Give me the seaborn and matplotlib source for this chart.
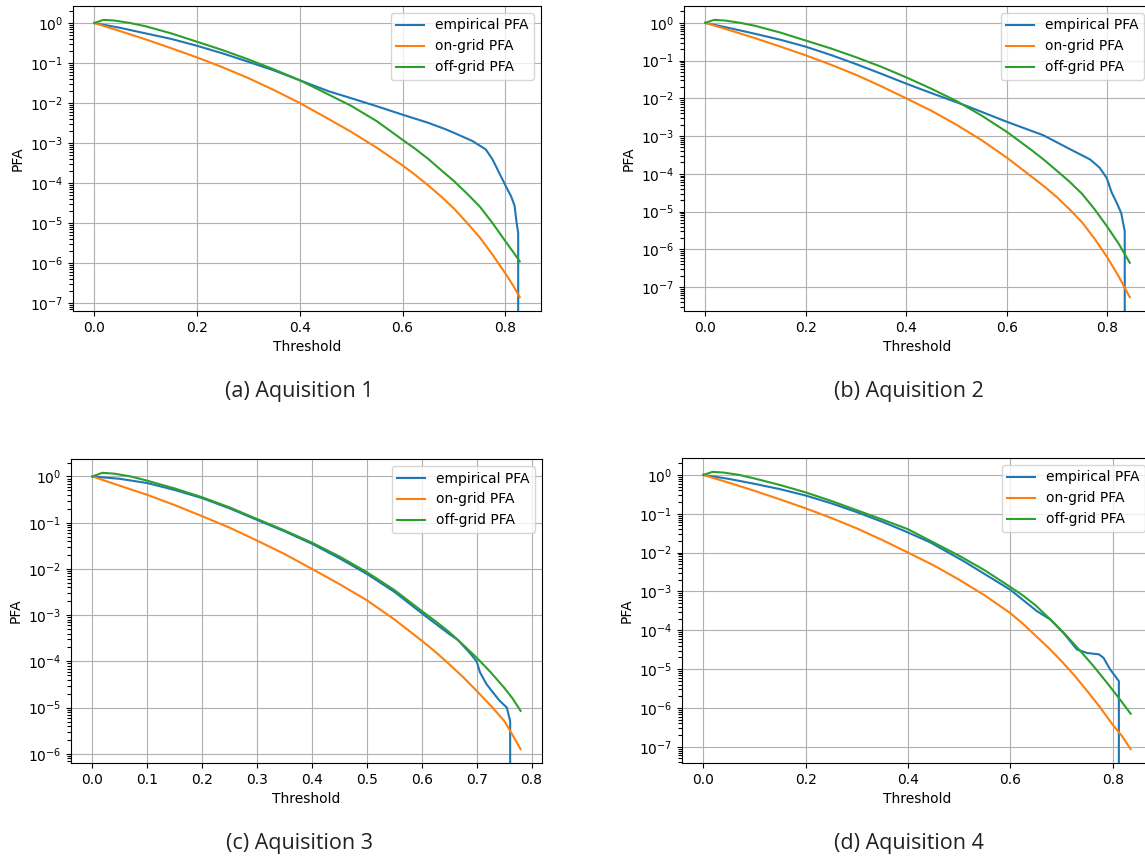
import matplotlib
matplotlib.use("Agg")
import matplotlib.pyplot as plt
from matplotlib.ticker import LogLocator, NullFormatter
import numpy as np
import seaborn as sns

# ---- data (threshold vs. probability of false alarm) ----
# (a) Aquisition 1
T_EMP_A = [0, 0.05, 0.1, 0.15, 0.2, 0.25, 0.3, 0.35, 0.4, 0.457, 0.5, 0.55, 0.6, 0.65,
           0.684, 0.7, 0.736, 0.762, 0.775, 0.788, 0.801, 0.811, 0.818, 0.822, 0.825, 0.8255]
EMP_A = [1.0, 0.76, 0.55, 0.40, 0.27, 0.174, 0.107, 0.065, 0.037, 0.0195, 0.0132, 8.3e-3,
         5.1e-3, 3.2e-3, 2.2e-3, 1.8e-3, 1.12e-3, 6.9e-4, 3.9e-4, 1.8e-4, 8.3e-5, 4.7e-5,
         2.7e-5, 1.0e-5, 5.6e-6, 0]
T_ON_A = [0, 0.05, 0.1, 0.15, 0.2, 0.25, 0.3, 0.35, 0.4, 0.45, 0.5, 0.55, 0.6, 0.625, 0.65,
          0.675, 0.7, 0.725, 0.75, 0.775, 0.8, 0.815, 0.828]
ON_A = [1.0, 0.63, 0.39, 0.234, 0.138, 0.078, 0.042, 0.021, 0.01, 4.4e-3, 1.9e-3, 7.6e-4,
        2.75e-4, 1.58e-4, 8.7e-5, 4.6e-5, 2.3e-5, 1.02e-5, 4.4e-6, 1.62e-6, 5.5e-7, 2.75e-7,
        1.4e-7]
T_OFF_A = [0, 0.018, 0.04, 0.07, 0.1, 0.15, 0.2, 0.25, 0.3, 0.35, 0.4, 0.45, 0.5, 0.55, 0.6,
           0.625, 0.65, 0.675, 0.7, 0.725, 0.75, 0.775, 0.8, 0.815, 0.828]
OFF_A = [1.0, 1.2, 1.15, 1.0, 0.83, 0.55, 0.34, 0.21, 0.123, 0.069, 0.037, 0.0178, 8.5e-3,
         3.5e-3, 1.2e-3, 7.1e-4, 4.0e-4, 2.1e-4, 1.12e-4, 5.5e-5, 2.6e-5, 1.0e-5, 3.5e-6,
         1.9e-6, 1.1e-6]

# (b) Aquisition 2
T_EMP_B = [0, 0.05, 0.1, 0.15, 0.2, 0.25, 0.3, 0.35, 0.4, 0.448, 0.52, 0.6, 0.673, 0.726,
           0.766, 0.785, 0.799, 0.809, 0.819, 0.828, 0.835, 0.8355]
EMP_B = [1.0, 0.72, 0.51, 0.355, 0.234, 0.141, 0.081, 0.045, 0.0245, 0.0141, 6.3e-3, 2.4e-3,
         1.05e-3, 4.5e-4, 2.4e-4, 1.45e-4, 7.8e-5, 3.2e-5, 1.7e-5, 9.1e-6, 3.0e-6, 0]
T_ON_B = [0, 0.05, 0.1, 0.15, 0.2, 0.25, 0.3, 0.35, 0.4, 0.45, 0.5, 0.55, 0.6, 0.625, 0.65,
          0.675, 0.7, 0.725, 0.75, 0.775, 0.8, 0.823, 0.845]
ON_B = [1.0, 0.63, 0.39, 0.234, 0.138, 0.078, 0.042, 0.021, 0.01, 4.7e-3, 2.0e-3, 7.8e-4,
        2.7e-4, 1.5e-4, 8.3e-5, 4.6e-5, 2.4e-5, 1.15e-5, 5.2e-6, 1.9e-6, 6.2e-7, 1.9e-7,
        5.4e-8]
T_OFF_B = [0, 0.018, 0.04, 0.07, 0.1, 0.15, 0.2, 0.25, 0.3, 0.35, 0.4, 0.45, 0.5, 0.55, 0.6,
           0.625, 0.65, 0.675, 0.7, 0.725, 0.75, 0.775, 0.8, 0.823, 0.845]
OFF_B = [1.0, 1.2, 1.15, 1.0, 0.83, 0.55, 0.34, 0.21, 0.123, 0.069, 0.036, 0.018, 8.5e-3,
         3.5e-3, 1.3e-3, 7.4e-4, 4.2e-4, 2.3e-4, 1.2e-4, 6.2e-5, 2.95e-5, 1.15e-5, 4.0e-6,
         1.4e-6, 4.4e-7]

# (c) Aquisition 3
T_EMP_C = [0, 0.05, 0.1, 0.15, 0.2, 0.25, 0.3, 0.35, 0.4, 0.45, 0.5, 0.55, 0.6, 0.65, 0.666,
           0.675, 0.688, 0.7, 0.706, 0.718, 0.73, 0.742, 0.755, 0.761, 0.7615]
EMP_C = [1.0, 0.89, 0.72, 0.51, 0.34, 0.204, 0.115, 0.065, 0.035, 0.017, 7.8e-3, 3.2e-3,
         1.1e-3, 3.9e-4, 2.9e-4, 2.2e-4, 1.5e-4, 1.0e-4, 5.8e-5, 3.2e-5, 2.1e-5, 1.4e-5,
         1.0e-5, 5.1e-6, 0]
T_ON_C = [0, 0.05, 0.1, 0.15, 0.2, 0.25, 0.3, 0.35, 0.4, 0.45, 0.5, 0.55, 0.6, 0.625, 0.65,
          0.675, 0.7, 0.725, 0.75, 0.765, 0.78]
ON_C = [1.0, 0.63, 0.40, 0.24, 0.138, 0.078, 0.041, 0.021, 0.01, 4.7e-3, 2.1e-3, 8.1e-4,
        2.8e-4, 1.6e-4, 8.7e-5, 4.6e-5, 2.3e-5, 1.12e-5, 5.2e-6, 2.6e-6, 1.26e-6]
T_OFF_C = [0, 0.018, 0.04, 0.07, 0.1, 0.15, 0.2, 0.25, 0.3, 0.35, 0.4, 0.45, 0.5, 0.55, 0.6,
           0.625, 0.65, 0.675, 0.7, 0.725, 0.75, 0.765, 0.78]
OFF_C = [1.0, 1.2, 1.15, 1.0, 0.81, 0.55, 0.355, 0.214, 0.12, 0.068, 0.037, 0.0186, 8.5e-3,
         3.5e-3, 1.23e-3, 7.4e-4, 4.3e-4, 2.3e-4, 1.2e-4, 5.9e-5, 2.7e-5, 1.6e-5, 8.5e-6]

# (d) Aquisition 4
T_EMP_D = [0, 0.05, 0.1, 0.15, 0.2, 0.25, 0.3, 0.35, 0.4, 0.444, 0.509, 0.6, 0.652, 0.678,
           0.704, 0.73, 0.75, 0.773, 0.782, 0.795, 0.812, 0.8125]
EMP_D = [1.0, 0.79, 0.59, 0.43, 0.295, 0.186, 0.11, 0.062, 0.033, 0.0182, 6.0e-3, 1.1e-3,
         3.1e-4, 1.9e-4, 8.5e-5, 3.2e-5, 2.6e-5, 2.4e-5, 1.95e-5, 9.8e-6, 4.9e-6, 0]
T_ON_D = [0, 0.05, 0.1, 0.15, 0.2, 0.25, 0.3, 0.35, 0.4, 0.45, 0.5, 0.55, 0.6, 0.625, 0.65,
          0.675, 0.7, 0.725, 0.75, 0.775, 0.8, 0.818, 0.835]
ON_D = [1.0, 0.63, 0.39, 0.234, 0.138, 0.078, 0.042, 0.021, 0.01, 4.7e-3, 2.0e-3, 7.9e-4,
        2.75e-4, 1.45e-4, 7.1e-5, 3.5e-5, 1.6e-5, 6.9e-6, 2.75e-6, 1.05e-6, 3.7e-7, 1.9e-7,
        8.7e-8]
T_OFF_D = [0, 0.018, 0.04, 0.07, 0.1, 0.15, 0.2, 0.25, 0.3, 0.35, 0.4, 0.444, 0.5, 0.55, 0.6,
           0.625, 0.65, 0.685, 0.711, 0.737, 0.763, 0.789, 0.812, 0.835]
OFF_D = [1.0, 1.2, 1.15, 1.0, 0.81, 0.55, 0.355, 0.214, 0.123, 0.071, 0.04, 0.02, 8.3e-3,
         3.5e-3, 1.3e-3, 7.8e-4, 4.3e-4, 1.55e-4, 6.9e-5, 2.9e-5, 1.17e-5, 4.4e-6, 1.8e-6,
         7.1e-7]

CAPTIONS = ["(a) Aquisition 1", "(b) Aquisition 2", "(c) Aquisition 3", "(d) Aquisition 4"]
SERIES_NAMES = ["empirical PFA", "on-grid PFA", "off-grid PFA"]

PANELS = [
    [(T_EMP_A, EMP_A), (T_ON_A, ON_A), (T_OFF_A, OFF_A)],
    [(T_EMP_B, EMP_B), (T_ON_B, ON_B), (T_OFF_B, OFF_B)],
    [(T_EMP_C, EMP_C), (T_ON_C, ON_C), (T_OFF_C, OFF_C)],
    [(T_EMP_D, EMP_D), (T_ON_D, ON_D), (T_OFF_D, OFF_D)],
]

# ---- layout (pixel boxes: left, right, top, bottom) ----
W, H = 1145, 860
AX_BOXES = [(73, 541, 6, 311), (684, 1151, 6, 311), (71, 542, 459, 763), (682, 1152, 458, 763)]
CAPTION_POS = [(299, 391), (909, 391), (299, 844), (909, 844)]
COLORS = ["#1f77b4", "#ff7f0e", "#2ca02c"]

plt.rcParams["font.size"] = 10
fig = plt.figure(figsize=(W / 100, H / 100), dpi=100)

for i, series in enumerate(PANELS):
    l, r, t, b = AX_BOXES[i]
    ax = fig.add_axes([l / W, 1 - b / H, (r - l) / W, (b - t) / H])
    for (x, y), name, c in zip(series, SERIES_NAMES, COLORS):
        sns.lineplot(x=x, y=y, ax=ax, color=c, label=name, estimator=None, sort=False,
                     linewidth=1.5)
    ax.set_yscale("log")
    # dense minor ticks in every decade like the original
    ax.yaxis.set_minor_locator(LogLocator(base=10, subs=np.arange(2, 10), numticks=50))
    ax.yaxis.set_minor_formatter(NullFormatter())
    ax.tick_params(axis="y", which="minor", length=2.8, width=0.8)
    ax.grid(True, which="major", color="#b0b0b0", linewidth=0.8)
    ax.set_xlabel("Threshold")
    ax.set_ylabel("PFA")
    ax.legend(loc="upper right")

    cx, cy = CAPTION_POS[i]
    fig.text(cx / W, 1 - cy / H, CAPTIONS[i], ha="center", va="center",
             fontsize=15.5, family=["Open Sans", "DejaVu Sans"], color="#222222")

fig.savefig("out.png", dpi=100)
